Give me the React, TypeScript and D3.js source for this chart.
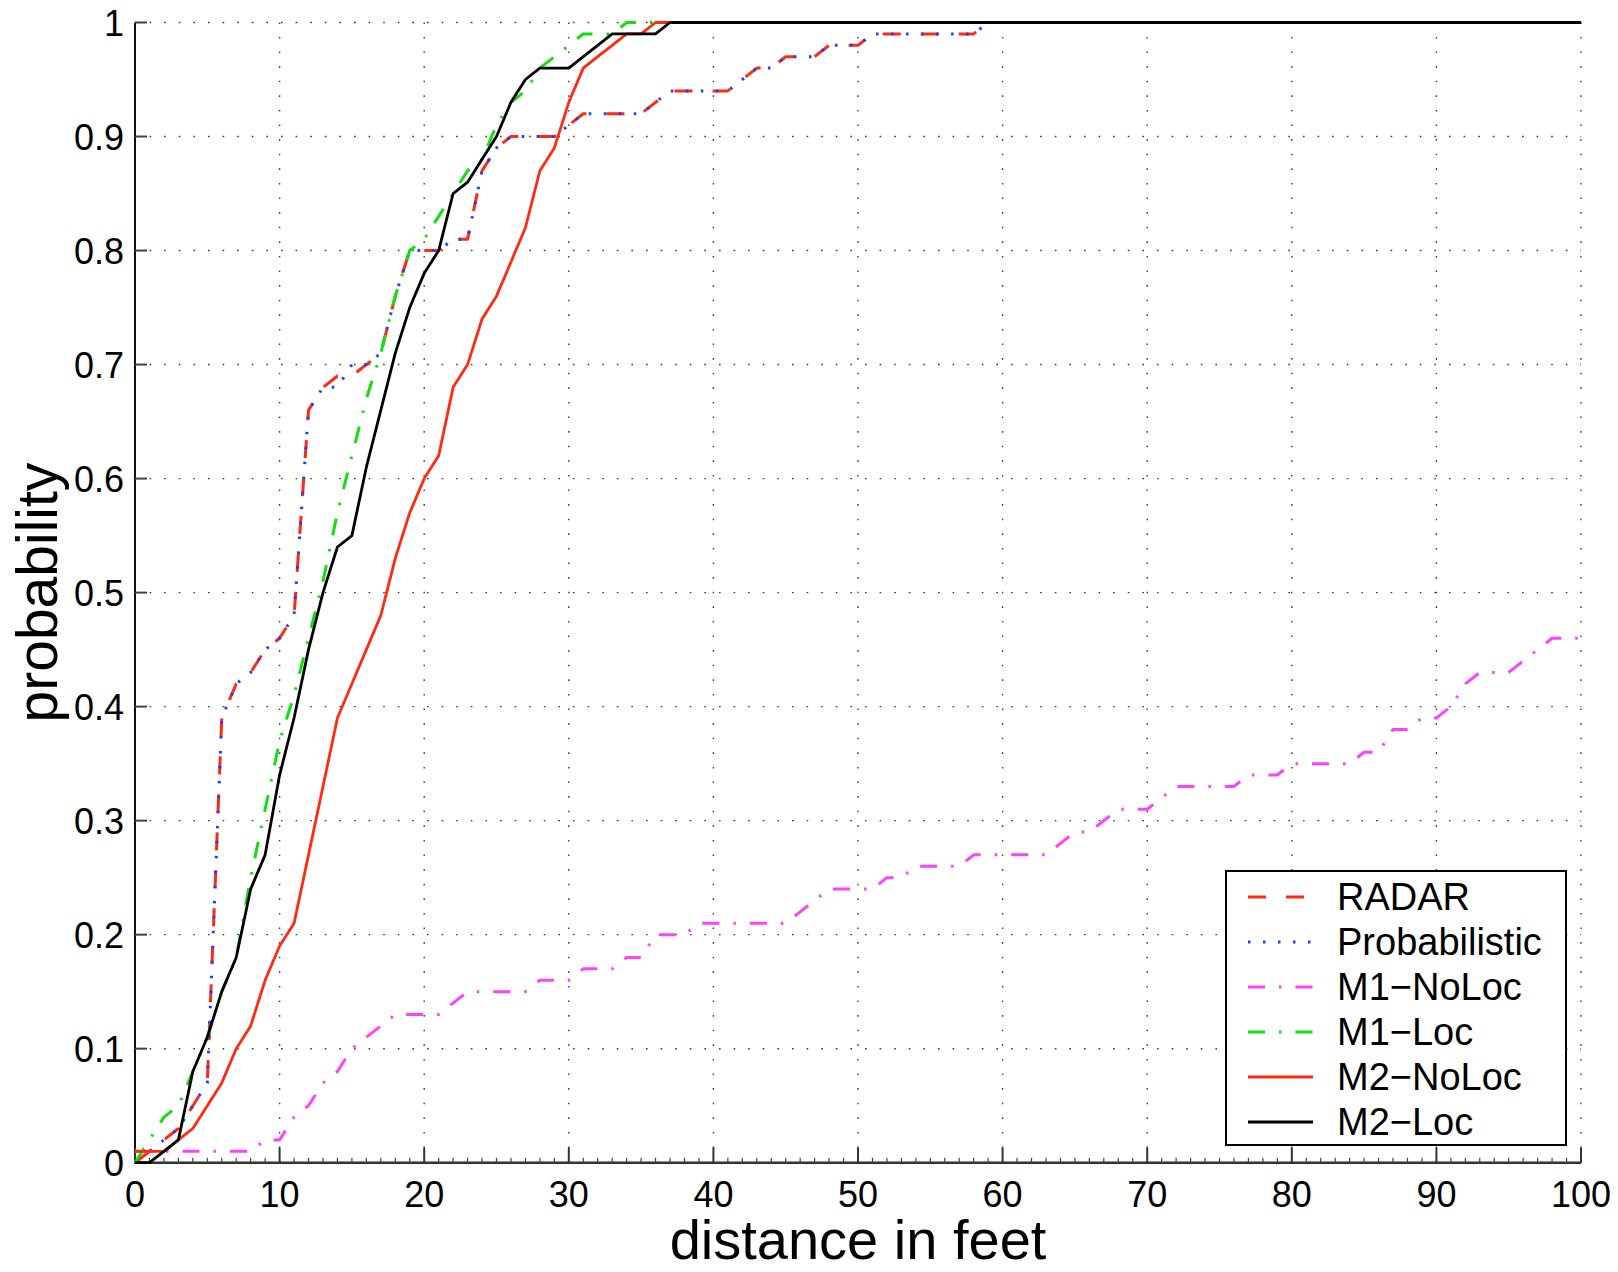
import React from "react";
import * as d3 from "d3";

// ---- data ----
const xTicks = [0, 10, 20, 30, 40, 50, 60, 70, 80, 90, 100];
const yTicks = [0, 0.1, 0.2, 0.3, 0.4, 0.5, 0.6, 0.7, 0.8, 0.9, 1];
const yTickLabels = ["0", "0.1", "0.2", "0.3", "0.4", "0.5", "0.6", "0.7", "0.8", "0.9", "1"];

const radarX = [0, 1, 2, 3, 4, 5, 6, 7, 8, 9, 10, 11, 12, 13, 14, 15, 16, 17, 18, 19, 20, 21, 22, 23, 24, 25, 26, 27, 28, 29, 30, 31, 32, 33, 34, 35, 36, 37, 38, 39, 40, 41, 42, 43, 44, 45, 46, 47, 48, 49, 50, 51, 58, 59, 100];
const radarP = [0, 0.01, 0.02, 0.03, 0.05, 0.07, 0.39, 0.42, 0.43, 0.45, 0.46, 0.48, 0.66, 0.68, 0.69, 0.69, 0.70, 0.71, 0.76, 0.80, 0.80, 0.80, 0.81, 0.81, 0.87, 0.89, 0.90, 0.90, 0.90, 0.90, 0.91, 0.92, 0.92, 0.92, 0.92, 0.92, 0.93, 0.94, 0.94, 0.94, 0.94, 0.94, 0.95, 0.96, 0.96, 0.97, 0.97, 0.97, 0.98, 0.98, 0.98, 0.99, 0.99, 1.0, 1.0];

const probX = [0, 1, 2, 3, 4, 5, 6, 7, 8, 9, 10, 11, 12, 13, 14, 15, 16, 17, 18, 19, 20, 21, 22, 23, 24, 25, 26, 27, 28, 29, 30, 31, 32, 33, 34, 35, 36, 37, 38, 39, 40, 41, 42, 43, 44, 45, 46, 47, 48, 49, 50, 51, 58, 59, 100];
const probP = [0.01, 0.01, 0.02, 0.03, 0.05, 0.07, 0.39, 0.42, 0.43, 0.45, 0.46, 0.48, 0.66, 0.68, 0.68, 0.70, 0.70, 0.71, 0.76, 0.80, 0.80, 0.80, 0.81, 0.81, 0.87, 0.89, 0.90, 0.90, 0.90, 0.90, 0.91, 0.92, 0.92, 0.92, 0.92, 0.92, 0.93, 0.94, 0.94, 0.94, 0.94, 0.94, 0.95, 0.96, 0.96, 0.97, 0.97, 0.97, 0.98, 0.98, 0.98, 0.99, 0.99, 1.0, 1.0];

const m1NoLocX = [0, 8, 9, 10, 11, 12, 13, 14, 15, 16, 17, 18, 19, 20, 21, 22, 23, 24, 25, 26, 27, 28, 29, 30, 31, 32, 33, 34, 35, 36, 37, 38, 39, 45, 46, 47, 48, 49, 50, 51, 52, 53, 54, 57, 58, 63, 64, 65, 66, 67, 68, 69, 70, 71, 72, 76, 77, 78, 79, 80, 84, 85, 86, 87, 88, 89, 90, 91, 92, 93, 94, 95, 96, 97, 98, 99, 100];
const m1NoLocP = [0.01, 0.01, 0.02, 0.02, 0.04, 0.05, 0.07, 0.08, 0.10, 0.11, 0.12, 0.13, 0.13, 0.13, 0.13, 0.14, 0.15, 0.15, 0.15, 0.15, 0.15, 0.16, 0.16, 0.16, 0.17, 0.17, 0.17, 0.18, 0.18, 0.20, 0.20, 0.20, 0.21, 0.21, 0.22, 0.23, 0.24, 0.24, 0.24, 0.24, 0.25, 0.25, 0.26, 0.26, 0.27, 0.27, 0.28, 0.29, 0.29, 0.30, 0.31, 0.31, 0.31, 0.32, 0.33, 0.33, 0.34, 0.34, 0.34, 0.35, 0.35, 0.36, 0.36, 0.38, 0.38, 0.39, 0.39, 0.40, 0.42, 0.43, 0.43, 0.43, 0.44, 0.45, 0.46, 0.46, 0.46];

const m1LocX = [0, 1, 2, 3, 4, 5, 6, 7, 8, 9, 10, 11, 12, 13, 14, 15, 16, 17, 18, 19, 20, 21, 22, 23, 24, 25, 26, 27, 28, 29, 30, 31, 32, 33, 34, 100];
const m1LocP = [0, 0.02, 0.04, 0.05, 0.08, 0.11, 0.15, 0.18, 0.25, 0.31, 0.37, 0.41, 0.46, 0.51, 0.57, 0.62, 0.67, 0.71, 0.76, 0.80, 0.81, 0.83, 0.85, 0.87, 0.88, 0.91, 0.93, 0.94, 0.96, 0.97, 0.98, 0.99, 0.99, 0.99, 1.0, 1.0];

const m2NoLocX = [0, 1, 2, 3, 4, 5, 6, 7, 8, 9, 10, 11, 12, 13, 14, 15, 16, 17, 18, 19, 20, 21, 22, 23, 24, 25, 26, 27, 28, 29, 30, 31, 32, 33, 34, 35, 36, 100];
const m2NoLocP = [0.01, 0.01, 0.01, 0.02, 0.03, 0.05, 0.07, 0.10, 0.12, 0.16, 0.19, 0.21, 0.27, 0.33, 0.39, 0.42, 0.45, 0.48, 0.53, 0.57, 0.60, 0.62, 0.68, 0.70, 0.74, 0.76, 0.79, 0.82, 0.87, 0.89, 0.93, 0.96, 0.97, 0.98, 0.99, 0.99, 1.0, 1.0];

const m2LocX = [0, 1, 2, 3, 4, 5, 6, 7, 8, 9, 10, 11, 12, 13, 14, 15, 16, 17, 18, 19, 20, 21, 22, 23, 24, 25, 26, 27, 28, 29, 30, 31, 32, 33, 34, 35, 36, 37, 100];
const m2LocP = [0, 0, 0.01, 0.02, 0.08, 0.11, 0.15, 0.18, 0.24, 0.27, 0.34, 0.39, 0.45, 0.50, 0.54, 0.55, 0.61, 0.66, 0.71, 0.75, 0.78, 0.80, 0.85, 0.86, 0.88, 0.90, 0.93, 0.95, 0.96, 0.96, 0.96, 0.97, 0.98, 0.99, 0.99, 0.99, 0.99, 1.0, 1.0];

const seriesNames = ["RADAR", "Probabilistic", "M1\u2212NoLoc", "M1\u2212Loc", "M2\u2212NoLoc", "M2\u2212Loc"];
const seriesX = [radarX, probX, m1NoLocX, m1LocX, m2NoLocX, m2LocX];
const seriesP = [radarP, probP, m1NoLocP, m1LocP, m2NoLocP, m2LocP];

// ---- styles ----
const styles = [
  { color: "#ff2a10", dash: "18,20", width: 3 },
  { color: "#1f3cff", dash: "2.5,12.5", width: 3 },
  { color: "#ff40ff", dash: "17,14,2.5,14", width: 3 },
  { color: "#10e010", dash: "17,14,2.5,14", width: 3 },
  { color: "#ff2a10", dash: "none", width: 2.8 },
  { color: "#000000", dash: "none", width: 2.8 },
];

const W = 1618;
const H = 1272;
const FONT = "'Liberation Sans', Arial, Helvetica, sans-serif";

export default function App() {
  const x = d3.scaleLinear().domain([0, 100]).range([135, 1581]);
  const y = d3.scaleLinear().domain([0, 1]).range([1162.7, 22.5]);
  const line = d3
    .line<[number, number]>()
    .x((d) => x(d[0]))
    .y((d) => y(d[1]));

  const minorTicks = d3.range(0, 101, 1).filter((v) => v % 10 !== 0);

  const legendLeft = 1226;
  const legendTop = 871;
  const legendRight = 1566;
  const legendBottom = 1145;

  return (
    <svg
      width={W}
      height={H}
      style={{ position: "absolute", left: 0, top: 0, display: "block", background: "#fff" }}
    >
      <rect x={0} y={0} width={W} height={H} fill="#fff" />
      {/* grid */}
      <g stroke="#3a3a3a" strokeWidth={1.4} strokeDasharray="1.6,13" fill="none">
        {xTicks.filter((v) => v > 0).map((v) => (
          <line key={"gx" + v} x1={x(v)} x2={x(v)} y1={y(0)} y2={y(1)} />
        ))}
        {yTicks.filter((v) => v > 0).map((v) => (
          <line key={"gy" + v} x1={x(0)} x2={x(100)} y1={y(v)} y2={y(v)} />
        ))}
      </g>
      {/* axes */}
      <g stroke="#111" fill="none">
        <line x1={x(0)} x2={x(0)} y1={y(0) + 1} y2={y(1)} strokeWidth={2} />
        <line x1={x(0)} x2={x(100)} y1={y(0)} y2={y(0)} strokeWidth={2.4} stroke="#333" />
        {yTicks.map((v) => (
          <line key={"ty" + v} x1={x(0)} x2={x(0) + 12} y1={y(v)} y2={y(v)} strokeWidth={2} stroke="#444" />
        ))}
        {xTicks.map((v) => (
          <line key={"tx" + v} x1={x(v)} x2={x(v)} y1={y(0)} y2={y(0) - 15} strokeWidth={2} stroke="#333" />
        ))}
        {minorTicks.map((v) => (
          <line key={"mx" + v} x1={x(v)} x2={x(v)} y1={y(0)} y2={y(0) - 5} strokeWidth={1.2} stroke="#444" />
        ))}
      </g>
      {/* series */}
      <g fill="none">
        {seriesX.map((xs, i) => {
          const pts: [number, number][] = xs.map((v, j) => [v, seriesP[i][j]]);
          const s = styles[i];
          return (
            <path
              key={"s" + i}
              d={line(pts) || ""}
              stroke={s.color}
              strokeWidth={s.width}
              strokeDasharray={s.dash}
              strokeLinejoin="round"
            />
          );
        })}
      </g>
      {/* tick labels */}
      <g fontFamily={FONT} fontSize={36} fill="#000">
        {yTicks.map((v, i) => (
          <text key={"ly" + v} x={124} y={y(v) + 13} textAnchor="end">
            {yTickLabels[i]}
          </text>
        ))}
        {xTicks.map((v) => (
          <text key={"lx" + v} x={x(v)} y={1207} textAnchor="middle">
            {String(v)}
          </text>
        ))}
      </g>
      {/* axis labels */}
      <text x={858} y={1259} textAnchor="middle" fontFamily={FONT} fontSize={56} fill="#000">
        distance in feet
      </text>
      <text
        transform={`translate(57,${(y(0) + y(1)) / 2}) rotate(-90)`}
        textAnchor="middle"
        fontFamily={FONT}
        fontSize={57}
        fill="#000"
      >
        probability
      </text>
      {/* legend */}
      <rect
        x={legendLeft}
        y={legendTop}
        width={legendRight - legendLeft}
        height={legendBottom - legendTop}
        fill="#fff"
        stroke="#000"
        strokeWidth={2}
      />
      {seriesNames.map((name, i) => {
        const ly = 897 + i * 45;
        const s = styles[i];
        return (
          <g key={"lg" + i}>
            <line
              x1={1248}
              x2={1313}
              y1={ly}
              y2={ly}
              stroke={s.color}
              strokeWidth={s.width}
              strokeDasharray={s.dash}
            />
            <text x={1337} y={ly + 13} fontFamily={FONT} fontSize={38} fill="#000">
              {name}
            </text>
          </g>
        );
      })}
    </svg>
  );
}
